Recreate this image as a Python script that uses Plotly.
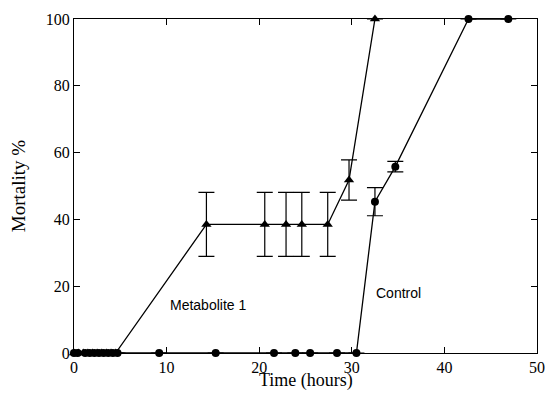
import plotly.graph_objects as go

# Metabolite 1 (triangles)
met_time = [0, 0.5, 1, 1.5, 2, 2.5, 3, 3.5, 4, 4.5, 14.3, 20.6, 22.9, 24.6, 27.4, 29.7, 32.5]
met_mort = [0, 0, 0, 0, 0, 0, 0, 0, 0, 0, 38.5, 38.5, 38.5, 38.5, 38.5, 51.8, 100]
met_err = [0, 0, 0, 0, 0, 0, 0, 0, 0, 0, 9.6, 9.6, 9.6, 9.6, 9.6, 6.0, 0]

# Control (circles)
ctl_time = [0, 0.4, 1.2, 1.7, 2.2, 2.7, 3.2, 3.7, 4.2, 4.7, 9.2, 15.3, 21.6, 23.9, 25.5, 28.4, 30.5, 32.5, 34.7, 42.6, 46.9]
ctl_mort = [0, 0, 0, 0, 0, 0, 0, 0, 0, 0, 0, 0, 0, 0, 0, 0, 0, 45.3, 55.8, 100, 100]
ctl_err = [0, 0, 0, 0, 0, 0, 0, 0, 0, 0, 0, 0, 0, 0, 0, 0, 0, 4.2, 1.6, 0, 0]

x_ticks = [0, 10, 20, 30, 40, 50]
y_ticks = [0, 20, 40, 60, 80, 100]

SERIF = "Liberation Serif"
SANS = "Liberation Sans"

fig = go.Figure()
fig.add_trace(go.Scatter(
    x=met_time, y=met_mort, mode="lines+markers",
    line=dict(color="black", width=1.3),
    marker=dict(symbol="triangle-up", size=9, color="black"),
    error_y=dict(type="data", array=met_err, color="black", thickness=1.2, width=8),
    cliponaxis=False, showlegend=False,
))
fig.add_trace(go.Scatter(
    x=ctl_time, y=ctl_mort, mode="lines+markers",
    line=dict(color="black", width=1.3),
    marker=dict(symbol="circle", size=8, color="black"),
    error_y=dict(type="data", array=ctl_err, color="black", thickness=1.2, width=8),
    cliponaxis=False, showlegend=False,
))

fig.add_annotation(x=14.5, y=14.4, text="Metabolite 1", showarrow=False,
                   font=dict(family=SANS, size=14, color="black"))
fig.add_annotation(x=35.0, y=18, text="Control", showarrow=False,
                   font=dict(family=SANS, size=14, color="black"))
# x-axis title
fig.add_annotation(xref="paper", yref="paper", x=0.5, y=-0.1168, yanchor="bottom",
                   text="Time (hours)", showarrow=False, borderpad=0,
                   font=dict(family=SERIF, size=18, color="black"))

axis_common = dict(
    showgrid=False, zeroline=False, showline=True, linecolor="black", linewidth=1.3,
    mirror="ticks", ticks="inside", ticklen=6, tickcolor="black", tickwidth=1.2,
    tickfont=dict(family=SERIF, size=16, color="black"), automargin=False,
)
fig.update_xaxes(range=[0, 50], tickvals=x_ticks, ticktext=[str(v) for v in x_ticks], **axis_common)
fig.update_yaxes(range=[0, 100], tickvals=y_ticks, ticktext=[str(v) for v in y_ticks], **axis_common,
                 title=dict(text="Mortality %",
                            font=dict(family=SERIF, size=19, color="black")))

fig.update_layout(
    width=545, height=384,
    margin=dict(l=66, r=16, t=11, b=39),
    font=dict(family=SERIF, size=16, color="black"),
    plot_bgcolor="white", paper_bgcolor="white",
)

fig.write_html("out.html")
